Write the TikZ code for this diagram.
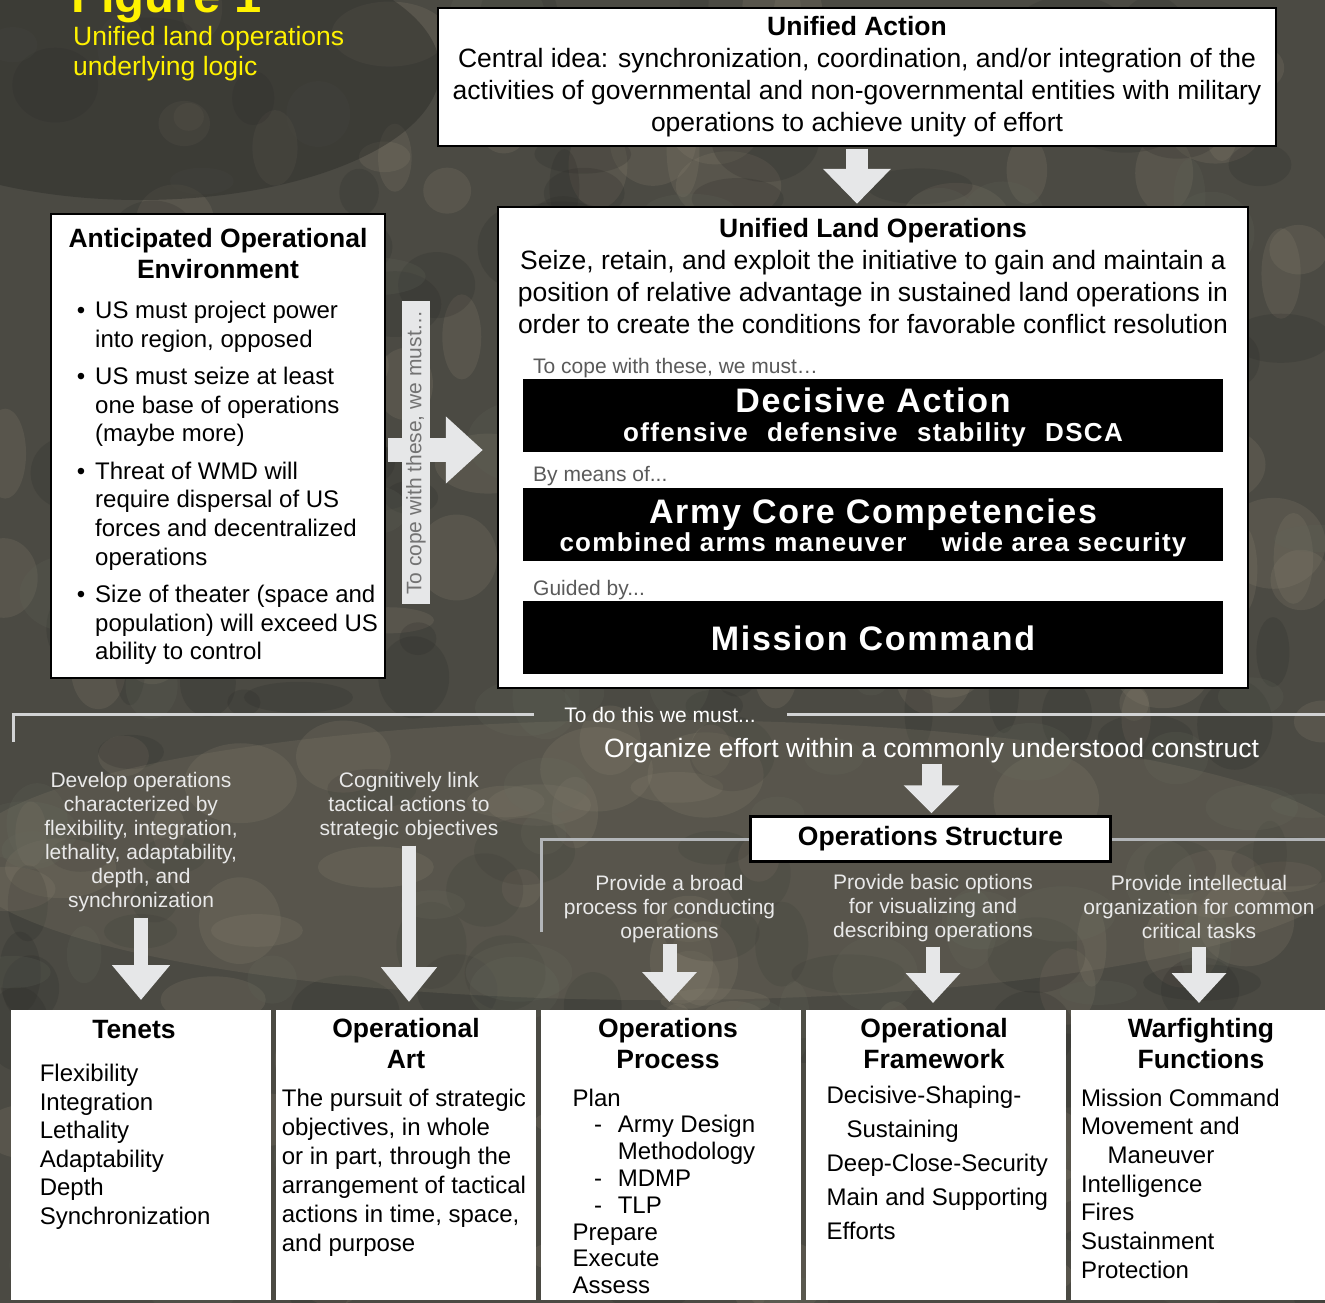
\documentclass[tikz,border=0pt]{standalone}
\usepackage{fontspec}
\setmainfont{Liberation Sans}
\usetikzlibrary{arrows.meta,calc}

\definecolor{camo}{HTML}{4B4A43}
\definecolor{camolight}{HTML}{8C8572}
\definecolor{camodark}{HTML}{2B2B28}
\definecolor{camogreen}{HTML}{5F6358}
\definecolor{arrowgray}{HTML}{E6E7E8}
\definecolor{rulegray}{HTML}{D2D3D4}
\definecolor{rulegraydim}{HTML}{B3B6B9}
\definecolor{labelgray}{HTML}{5A5A5A}
\definecolor{textlight}{HTML}{E9E9E9}
\definecolor{figyellow}{HTML}{FFF200}

\newcommand\fsz[2]{\fontsize{#1}{#2}\selectfont}
\newcommand\dashitem{\hspace*{21.5pt}\makebox[23.6pt][l]{-}}

\tikzset{
  whitebox/.style={draw=black, line width=2.5pt, fill=white, inner sep=0pt},
  panel/.style={fill=white, inner sep=0pt, minimum width=260, minimum height=290, anchor=north west},
  blackbar/.style={fill=black, inner sep=0pt, minimum width=700, minimum height=73},
  bartext/.style={anchor=base, inner sep=0pt, text=white},
  glabel/.style={anchor=base west, inner sep=0pt, text=labelgray, font=\fsz{21}{24}},
  bgtext/.style={anchor=base, inner sep=0pt, align=center, text=textlight, font=\fsz{21}{24}},
  ptitle/.style={anchor=base, inner sep=0pt, align=center, font=\fsz{26.5}{31}\bfseries},
  plist/.style={anchor=base west, inner sep=0pt, align=left},
  rule/.style={draw=rulegray, line width=3pt},
  blockarrow/.style n args={3}{draw=arrowgray, line width=#1, -{Triangle[width=#2,length=#3]}}
}

\begin{document}
\begin{tikzpicture}[x=1pt,y=-1pt]
\useasboundingbox (0,0) rectangle (1325,1303);

% camouflage background (multi-line nodes below sit on their last baseline)
\fill[camo] (0,0) rectangle (1325,1303);
\pgfmathsetseed{31}
\foreach \i in {1,...,170}{
  \pgfmathsetmacro\bx{rnd*1325}
  \pgfmathsetmacro\by{rnd*1303}
  \pgfmathsetmacro\rx{14+rnd*45}
  \pgfmathsetmacro\ry{12+rnd*35}
  \fill[camolight, opacity=0.2] (\bx,\by) ellipse [x radius=\rx pt, y radius=\ry pt];
}
\foreach \i in {1,...,140}{
  \pgfmathsetmacro\bx{rnd*1325}
  \pgfmathsetmacro\by{rnd*1303}
  \pgfmathsetmacro\rx{14+rnd*45}
  \pgfmathsetmacro\ry{12+rnd*35}
  \fill[camodark, opacity=0.22] (\bx,\by) ellipse [x radius=\rx pt, y radius=\ry pt];
}
\foreach \i in {1,...,110}{
  \pgfmathsetmacro\bx{rnd*1325}
  \pgfmathsetmacro\by{rnd*1303}
  \pgfmathsetmacro\rx{14+rnd*40}
  \pgfmathsetmacro\ry{12+rnd*30}
  \fill[camogreen, opacity=0.22] (\bx,\by) ellipse [x radius=\rx pt, y radius=\ry pt];
}
\fill[camodark, opacity=0.45] (140,70) ellipse [x radius=300pt, y radius=130pt];
\fill[camolight, opacity=0.2] (660,860) ellipse [x radius=700pt, y radius=140pt];

% title
\node[anchor=base west, inner sep=0pt, text=figyellow, font=\fsz{49}{49}\bfseries] (fig) at (71,13) {Figure 1};
\node[anchor=base west, inner sep=0pt, align=left, text=figyellow, font=\fsz{26.5}{29.5}] (figsub) at (73,75.5) {Unified land operations\\underlying logic};

% upper boxes
\node[whitebox, minimum width=838, minimum height=138, align=center, font=\fsz{26.5}{32}] (ua) at (857,77)
  {\textbf{Unified Action}\\Central idea: synchronization, coordination, and/or integration of the\\activities of governmental and non-governmental entities with military\\operations to achieve unity of effort};

\node[whitebox, minimum width=750, minimum height=481] (ulo) at (873,447.5) {};
\node[anchor=base, inner sep=0pt, align=center, font=\fsz{26.5}{32}] (ulotext) at (873,333)
  {\textbf{Unified Land Operations}\\Seize, retain, and exploit the initiative to gain and maintain a\\position of relative advantage in sustained land operations in\\order to create the conditions for favorable conflict resolution};

\node[glabel] (copelbl) at (533,373) {To cope with these, we must…};
\node[blackbar] (da) at (873,415.5) {};
\node[bartext, font=\fsz{34}{34}\bfseries\addfontfeature{LetterSpace=5}] at (873,412) {Decisive Action};
\node[bartext, font=\fsz{26}{26}\bfseries\addfontfeature{LetterSpace=5}] at (873,441)
  {offensive\hspace{0.75em}defensive\hspace{0.75em}stability\hspace{0.75em}DSCA};

\node[glabel] (meanslbl) at (533,481.5) {By means of...};
\node[blackbar] (acc) at (873,524.5) {};
\node[bartext, font=\fsz{34}{34}\bfseries\addfontfeature{LetterSpace=5}] at (873,523) {Army Core Competencies};
\node[bartext, font=\fsz{26}{26}\bfseries\addfontfeature{LetterSpace=5}] at (873,551)
  {combined arms maneuver\hspace{1.35em}wide area security};

\node[glabel] (guidedlbl) at (533,595) {Guided by...};
\node[blackbar] (mc) at (873,637) {};
\node[bartext, font=\fsz{34}{34}\bfseries\addfontfeature{LetterSpace=5}] at (873,650) {Mission Command};

\node[whitebox, minimum width=334, minimum height=464] (aoe) at (218,446) {};
\node[anchor=base, inner sep=0pt, align=center, font=\fsz{26.5}{31}\bfseries] (aoetitle) at (218,278)
  {Anticipated Operational\\Environment};
\node[plist, font=\fsz{24}{28.7}] (aoelist) at (95,659.8)
  {\llap{•\hspace{10pt}}US must project power\\into region, opposed\\[8.6pt]
   \llap{•\hspace{10pt}}US must seize at least\\one base of operations\\(maybe more)\\[8.6pt]
   \llap{•\hspace{10pt}}Threat of WMD will\\require dispersal of US\\forces and decentralized\\operations\\[8.6pt]
   \llap{•\hspace{10pt}}Size of theater (space and\\population) will exceed US\\ability to control};

\draw[blockarrow={22pt}{66pt}{35pt}, shorten <=1.5pt, shorten >=2pt] (ua.south) -- (ua.south |- ulo.north);
\draw[blockarrow={24pt}{65pt}{37pt}, shorten <=1.5pt, shorten >=14pt] ([yshift=-4pt]aoe.east) -- ([yshift=-4pt]aoe.east -| ulo.west);
\node[fill=arrowgray, minimum width=303, minimum height=28, inner sep=0pt, rotate=90,
  text=labelgray!85, font=\fsz{21}{24}] (copeside) at (416,452.5) {To cope with these, we must…};

% middle band
\node[bgtext, text=white] (todo) at (660,722) {To do this we must...};
\draw[rule] (13,742) |- ([xshift=-30pt]todo.west);
\draw[rule] ([xshift=31pt]todo.east) -- ++(600,0);

\node[bgtext, text=white, font=\fsz{26.5}{30}] (organize) at (931.5,757) {Organize effort within a commonly understood construct};
\node[whitebox, minimum width=360, minimum height=45, font=\fsz{26.5}{30}\bfseries] (opsstruct) at (930.5,839) {Operations Structure};
\draw[blockarrow={20pt}{54pt}{28pt}, shorten <=1pt, shorten >=2pt] (organize.south) -- (organize.south |- opsstruct.north);
\coordinate (leftdrop) at (541,932);
\draw[rule, draw=rulegraydim] (leftdrop) |- (opsstruct.west);
\draw[rule, draw=rulegraydim] (opsstruct.east) -- ++(300,0);

\node[bgtext] (devop) at (141,907) {Develop operations\\characterized by\\flexibility, integration,\\lethality, adaptability,\\depth, and\\synchronization};
\node[bgtext] (cogn) at (409,835) {Cognitively link\\tactical actions to\\strategic objectives};
\node[bgtext] (broad) at (669.5,938) {Provide a broad\\process for conducting\\operations};
\node[bgtext] (basic) at (933,937) {Provide basic options\\for visualizing and\\describing operations};
\node[bgtext] (intel) at (1199,938) {Provide intellectual\\organization for common\\critical tasks};

% bottom panels
\node[panel] (tenets) at (11,1010) {};
\node[panel] (opart) at (276,1010) {};
\node[panel] (opproc) at (541,1010) {};
\node[panel] (opfw) at (806,1010) {};
\node[panel] (wff) at (1071,1010) {};

\draw[blockarrow={14pt}{56pt}{35pt}, shorten <=6pt, shorten >=10pt] (devop.south) -- (devop.south |- tenets.north);
\draw[blockarrow={14pt}{54pt}{35pt}, shorten <=6pt, shorten >=8pt] (cogn.south) -- (cogn.south |- opart.north);
\draw[blockarrow={14pt}{53pt}{30pt}, shorten <=1.5pt, shorten >=8pt] (broad.south) -- (broad.south |- opproc.north);
\draw[blockarrow={14pt}{53pt}{30pt}, shorten <=5pt, shorten >=7pt] (basic.south) -- (basic.south |- opfw.north);
\draw[blockarrow={14pt}{53pt}{30pt}, shorten <=9pt, shorten >=7pt] (intel.south) -- (intel.south |- wff.north);

\node[ptitle] at (134,1038) {Tenets};
\node[plist, font=\fsz{24}{28.5}] at (39.6,1224)
  {Flexibility\\Integration\\Lethality\\Adaptability\\Depth\\Synchronization};

\node[ptitle] at (406,1068.5) {Operational\\Art};
\node[plist, font=\fsz{24}{28.9}] at (281.7,1251.2)
  {The pursuit of strategic\\objectives, in whole\\or in part, through the\\arrangement of tactical\\actions in time, space,\\and purpose};

\node[ptitle] at (668,1068.5) {Operations\\Process};
\node[plist, font=\fsz{24}{26.8}] at (572.5,1293.6)
  {Plan\\\dashitem Army Design\\\hspace*{45.1pt}Methodology\\\dashitem MDMP\\\dashitem TLP\\Prepare\\Execute\\Assess};

\node[ptitle] at (934,1068.5) {Operational\\Framework};
\node[plist, font=\fsz{24}{34.0}] at (826.4,1239.3)
  {Decisive-Shaping-\\\hspace*{20pt}Sustaining\\Deep-Close-Security\\Main and Supporting\\Efforts};

\node[ptitle] at (1201,1068.5) {Warfighting\\Functions};
\node[plist, font=\fsz{24}{28.7}] at (1080.8,1278.2)
  {Mission Command\\Movement and\\\hspace*{26.6pt}Maneuver\\Intelligence\\Fires\\Sustainment\\Protection};
\end{tikzpicture}
\end{document}
